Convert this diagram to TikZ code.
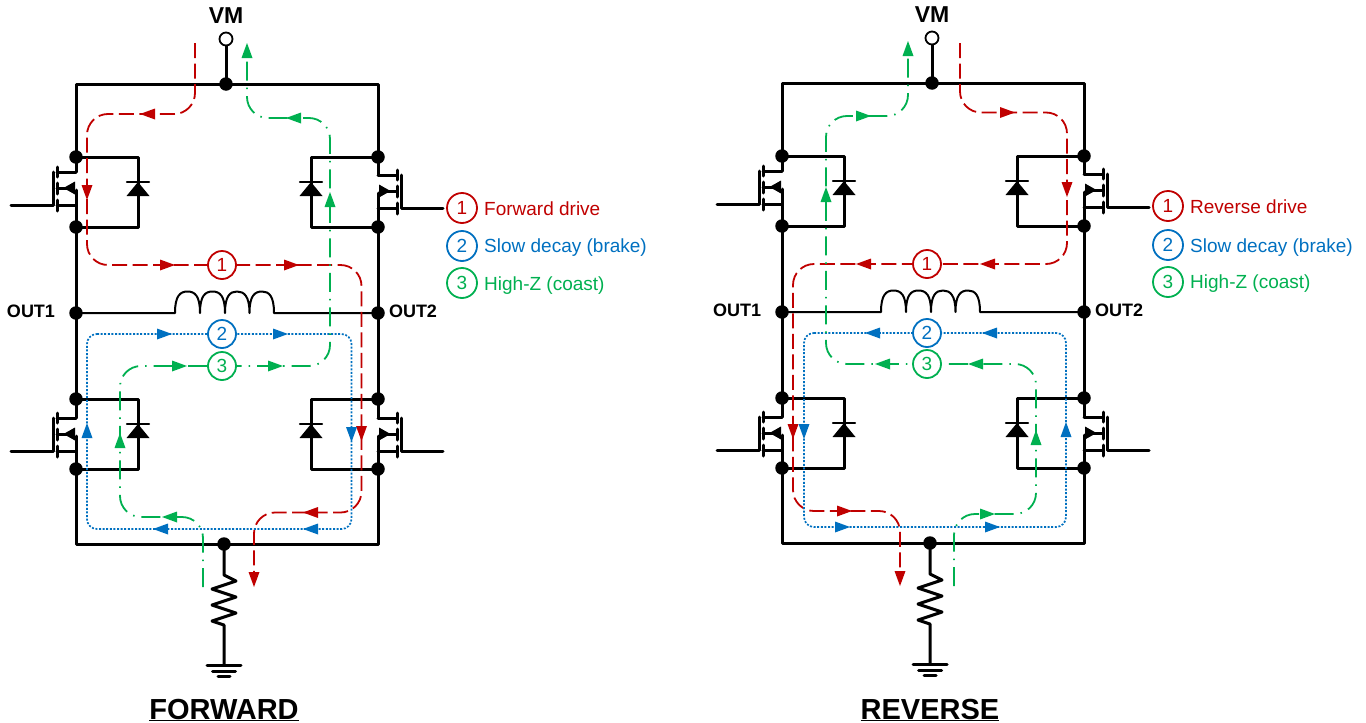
\documentclass[tikz,border=0pt]{standalone}
\usepackage{fontspec}
\setmainfont{Liberation Sans}
\definecolor{cred}{HTML}{C00000}
\definecolor{cblue}{HTML}{0070C0}
\definecolor{cgreen}{HTML}{00B050}
\tikzset{
  wire/.style={draw=black,line width=3pt,line cap=round,line join=round},
  thinwire/.style={draw=black,line width=2pt},
  junction/.style={circle,fill=black,draw=none,minimum size=13.5pt,inner sep=0pt},
  terminal/.style={circle,fill=white,draw=black,line width=1.8pt,minimum size=13pt,inner sep=0pt},
  redpath/.style={draw=cred,line width=1.8pt,rounded corners=21pt,dash pattern=on 15pt off 5.5pt},
  bluepath/.style={draw=cblue,line width=1.7pt,rounded corners=10pt,dash pattern=on 2pt off 1.6pt},
  greenpath/.style={draw=cgreen,line width=1.8pt,rounded corners=21pt,dash pattern=on 19pt off 7pt on 1.5pt off 7pt},
  numnode/.style={circle,draw=#1,text=#1,fill=white,line width=1.8pt,minimum size=28pt,inner sep=0pt,font=\fontsize{19}{19}\selectfont},
  legnode/.style={circle,draw=#1,text=#1,fill=white,line width=1.8pt,minimum size=30pt,inner sep=0pt,font=\fontsize{19}{19}\selectfont},
  legtext/.style={anchor=base west,inner sep=0pt,text=#1,font=\fontsize{19}{19}\selectfont},
  boldlabel/.style={inner sep=0pt,font=\bfseries\fontsize{18}{18}\selectfont},
  titlelabel/.style={inner sep=0pt,anchor=base,font=\bfseries\fontsize{29}{29}\selectfont},
}
% arrowheads: tip x, tip y, colour
\newcommand\arrL[3]{\fill[#3] (#1,#2) -- (#1+15,#2-5.5) -- (#1+15,#2+5.5) -- cycle;}
\newcommand\arrR[3]{\fill[#3] (#1,#2) -- (#1-15,#2-5.5) -- (#1-15,#2+5.5) -- cycle;}
\newcommand\arrU[3]{\fill[#3] (#1,#2) -- (#1-5.5,#2+15) -- (#1+5.5,#2+15) -- cycle;}
\newcommand\arrD[3]{\fill[#3] (#1,#2) -- (#1-5.5,#2-15) -- (#1+5.5,#2-15) -- cycle;}
% MOSFET: rail x, gate y, mirror (1 = gate on the left, -1 = gate on the right)
\newcommand\fet[3]{%
  \begin{scope}[shift={(#1,#2)},xscale=#3]
    \draw[wire] (-65,0) -- (-23,0) -- (-23,-33);
    \draw[wire] (-19,-38) -- (-19,-28);
    \draw[wire] (-19,-22) -- (-19,-11);
    \draw[wire] (-19,-5) -- (-19,6);
    \draw[wire] (0,-33) -- (-19,-33);
    \draw[wire] (0,0) -- (-19,0);
    \draw[wire] (-19,-17) -- (-9,-17);
    \fill[black] (-12.5,-17) -- (-1,-23.5) -- (-1,-10.5) -- cycle;
  \end{scope}}
% diode: x, y of cathode bar
\newcommand\diode[2]{%
  \draw[wire,line width=2.4pt] (#1-11,#2) -- (#1+11,#2);
  \fill[black] (#1,#2) -- (#1-11.5,#2+14) -- (#1+11.5,#2+14) -- cycle;}
% bridge
\newcommand\bridge[1]{%
  \node[junction] (#1top) at (226,84) {};
  \node[terminal] (#1vm) at (226,39) {};
  \node[junction] (#1bot) at (224,544) {};
  \node[junction] (#1tl) at (76,157) {};
  \node[junction] (#1ml) at (76,227) {};
  \node[junction] (#1tr) at (378,157) {};
  \node[junction] (#1mr) at (378,227) {};
  \node[junction] (#1nl) at (76,399) {};
  \node[junction] (#1bl) at (76,469) {};
  \node[junction] (#1nr) at (378,399) {};
  \node[junction] (#1br) at (378,469) {};
  \node[junction] (#1o1) at (76,313) {};
  \node[junction] (#1o2) at (378,313) {};
  \draw[wire] (#1vm) -- (#1top.center);
  \draw[wire] (#1tl.center) -- (76,84) -- (378,84) -- (#1tr.center);
  \draw[wire] (#1bl.center) -- (76,544) -- (378,544) -- (#1br.center);
  \draw[wire] (#1ml.center) -- (#1nl.center);
  \draw[wire] (#1mr.center) -- (#1nr.center);
  \draw[wire] (#1tl.center) -- (76,172);
  \draw[wire] (#1ml.center) -- (76,190);
  \draw[wire] (#1tr.center) -- (378,175);
  \draw[wire] (#1mr.center) -- (378,193);
  \draw[wire] (#1nl.center) -- (76,418);
  \draw[wire] (#1bl.center) -- (76,436);
  \draw[wire] (#1nr.center) -- (378,418);
  \draw[wire] (#1br.center) -- (378,436);
  \fet{76}{205}{1}
  \fet{378}{208}{-1}
  \fet{76}{451}{1}
  \fet{378}{451}{-1}
  \draw[wire] (#1tl.center) -| (138,227) -- (#1ml.center);
  \draw[wire] (#1tr.center) -| (311,227) -- (#1mr.center);
  \draw[wire] (#1nl.center) -| (138,469) -- (#1bl.center);
  \draw[wire] (#1nr.center) -| (311,469) -- (#1br.center);
  \diode{138}{182}
  \diode{311}{182}
  \diode{138}{424}
  \diode{311}{424}
  \draw[thinwire,line join=round] (#1o1.center) -- (175,313)
    .. controls (175,296) and (180,291.5) .. (187.5,291.5) .. controls (195,291.5) and (200,296) .. (200,313)
    .. controls (200,296) and (205,291.5) .. (212.5,291.5) .. controls (220,291.5) and (225,296) .. (225,313)
    .. controls (225,296) and (230,291.5) .. (237,291.5) .. controls (244,291.5) and (249.5,296) .. (249.5,313)
    .. controls (249.5,296) and (254.5,291.5) .. (262,291.5) .. controls (269,291.5) and (274,296) .. (274,313)
    -- (#1o2.center);
  \draw[wire] (#1bot.center) -- (224,575) -- (236,581) -- (212,589) -- (236,597) -- (212,605) -- (236,613) -- (212,621) -- (224,625) -- (224,665);
  \coordinate (#1gnd) at (224,665);
  \draw[wire] (207,665) -- (241,665);
  \draw[wire] (212.5,671) -- (235.5,671);
  \draw[wire] (218,676.5) -- (230,676.5);
  \node[inner sep=0pt,font=\bfseries\fontsize{23}{23}\selectfont] (#1vmt) at (226,16) {VM};
  \node[boldlabel] (#1o1t) at (31,311) {OUT1};
  \node[boldlabel] (#1o2t) at (413,311) {OUT2};
}
\begin{document}
\begin{tikzpicture}[x=1pt,y=-1pt]
\useasboundingbox (0,0) rectangle (1366,723);
% ---------- FORWARD ----------
\begin{scope}
  \bridge{f}
\end{scope}
\coordinate (fRs) at (195,43);
\coordinate (fRe) at (254,580);
\coordinate (fGs) at (203,587);
\coordinate (fGe) at (247,50);
\draw[redpath] (fRs) -- (195,114) -- (87,114) -- (87,265) -- (361.5,265) -- (361.5,512.5) -- (254,512.5) -- (fRe);
\draw[bluepath] (87,334) -- (351.5,334) -- (351.5,529) -- (87,529) -- cycle;
\draw[greenpath] (fGs) -- (203,517) -- (120,517) -- (120,366) -- (330,366) -- (330,118) -- (247,118) -- (fGe);
\arrL{140}{114}{cred} \arrD{87}{200}{cred} \arrR{175}{265}{cred} \arrR{299}{265}{cred}
\arrD{361.5}{441}{cred} \arrL{303}{512.5}{cred} \arrD{254}{587}{cred}
\arrR{172}{334}{cblue} \arrR{288}{334}{cblue} \arrD{351.5}{442}{cblue}
\arrL{303}{529}{cblue} \arrL{153}{529}{cblue} \arrU{87}{423}{cblue}
\arrU{247}{43}{cgreen} \arrL{286}{118}{cgreen} \arrU{330}{192}{cgreen}
\arrR{187}{366}{cgreen} \arrR{283}{366}{cgreen} \arrL{162}{517}{cgreen} \arrU{120}{433}{cgreen}
\node[numnode=cred] (f1) at (222,265) {1};
\node[numnode=cblue] (f2) at (222,334) {2};
\node[numnode=cgreen] (f3) at (222,366) {3};
\node[legnode=cred] (fl1) at (462,208) {1};
\node[legnode=cblue] (fl2) at (462,246) {2};
\node[legnode=cgreen] (fl3) at (462,283) {3};
\node[legtext=cred] (flt1) at (484,215) {Forward drive};
\node[legtext=cblue] (flt2) at (484,252) {Slow decay (brake)};
\node[legtext=cgreen] (flt3) at (484,290) {High-Z (coast)};
\node[titlelabel] (ftitle) at (224,719) {\underline{FORWARD}};
% ---------- REVERSE ----------
\begin{scope}[shift={(706,-1)}]
  \bridge{r}
\end{scope}
\coordinate (rRs) at (960,43);
\coordinate (rRe) at (900,579);
\coordinate (rGs) at (954,586);
\coordinate (rGe) at (908,48);
\draw[redpath] (rRs) -- (960,112.5) -- (1067,112.5) -- (1067,264) -- (793,264) -- (793,511) -- (900,511) -- (rRe);
\draw[bluepath] (804,333) -- (1066,333) -- (1066,527) -- (804,527) -- cycle;
\draw[greenpath] (rGs) -- (954,514) -- (1036,514) -- (1036,364) -- (826,364) -- (826,116) -- (908,116) -- (rGe);
\arrR{1015}{112.5}{cred} \arrD{1067}{197}{cred} \arrL{980}{264}{cred} \arrL{856}{264}{cred}
\arrD{793}{439}{cred} \arrR{852}{511}{cred} \arrD{900}{586}{cred}
\arrL{865}{333}{cblue} \arrL{982}{333}{cblue} \arrD{804}{439}{cblue}
\arrR{850}{527}{cblue} \arrR{1000}{527}{cblue} \arrU{1066}{422}{cblue}
\arrU{908}{41}{cgreen} \arrR{871}{116}{cgreen} \arrU{826}{187}{cgreen}
\arrL{875}{364}{cgreen} \arrL{968}{364}{cgreen} \arrR{995}{514}{cgreen} \arrU{1036}{430}{cgreen}
\node[numnode=cred] (r1) at (927,264) {1};
\node[numnode=cblue] (r2) at (927,333) {2};
\node[numnode=cgreen] (r3) at (927,364) {3};
\node[legnode=cred] (rl1) at (1168,206) {1};
\node[legnode=cblue] (rl2) at (1168,245) {2};
\node[legnode=cgreen] (rl3) at (1168,282) {3};
\node[legtext=cred] (rlt1) at (1190,213) {Reverse drive};
\node[legtext=cblue] (rlt2) at (1190,252) {Slow decay (brake)};
\node[legtext=cgreen] (rlt3) at (1190,288) {High-Z (coast)};
\node[titlelabel] (rtitle) at (930,719) {\underline{REVERSE}};
\end{tikzpicture}
\end{document}
